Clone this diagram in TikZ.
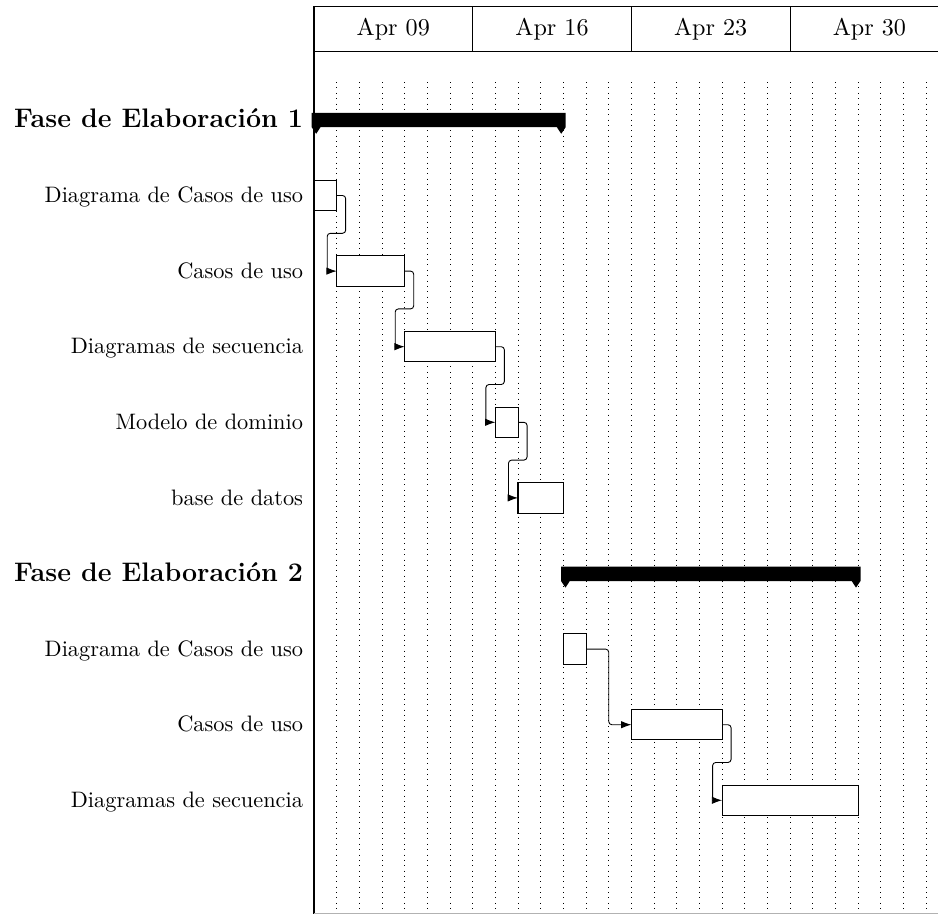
\documentclass[tikz,border=0pt]{standalone}
\usetikzlibrary{arrows.meta,calc}
\begin{document}
\begin{tikzpicture}[x=0.4474pt,y=-0.4474pt,
  bar/.style={draw,fill=white,line width=0.45pt,minimum height=13.6pt,minimum width=#1*10.143pt,anchor=west,inner sep=0pt,outer sep=0pt},
  lbl/.style={anchor=base east,inner sep=0pt,font=\normalsize},
  glbl/.style={anchor=base east,inner sep=0pt,font=\large\bfseries},
  ttl/.style={anchor=base,inner sep=0pt,font=\fontsize{10.8}{13}\selectfont},
  gridline/.style={dotted,line width=0.4pt},
  frame/.style={line width=0.45pt},
  link/.style={line width=0.4pt,rounded corners=1.4pt,-{Latex[length=4.6pt,width=3.3pt]}},
  gbar/.style={fill=black}]
\useasboundingbox (0,0) rectangle (938,914);
% grid
\foreach \d in {1,...,27} \draw[gridline] ({314+22.67*\d},82.1) -- ({314+22.67*\d},914);
% title frame
\draw[frame] (314,914) -- (314,6.7) -- (938,6.7);
\draw[frame] (314,51.7) -- (938,51.7);
\foreach \xx in {472.7,631.4,790.1} \draw[frame] (\xx,6.7) -- (\xx,51.7);
\node[ttl] (t1) at (393.3,35.9) {Apr 09};
\node[ttl] (t2) at (552.0,35.9) {Apr 16};
\node[ttl] (t3) at (710.7,35.9) {Apr 23};
\node[ttl] (t4) at (869.4,35.9) {Apr 30};
% bottom edge
\draw[frame,gray!60] (314,913.8) -- (938,913.8);
% group bars
\fill[gbar] (311.7,112.8) -- (565.7,112.8) -- (565.7,127.2) -- (561.2,133.8) -- (556.9,127.2)
  -- (320.5,127.2) -- (316.2,133.8) -- (311.7,127.2) -- cycle;
\fill[gbar] (561.0,566.5) -- (860.5,566.5) -- (860.5,581.0) -- (856.0,587.6) -- (851.7,581.0)
  -- (569.8,581.0) -- (565.5,587.6) -- (561.0,581.0) -- cycle;
% labels
\node[glbl] (g1) at (303.5,127.5) {Fase de Elaboración 1};
\node[lbl] (l1) at (303.5,202.6) {Diagrama de Casos de uso};
\node[lbl] (l2) at (303.5,278.2) {Casos de uso};
\node[lbl] (l3) at (303.5,353.8) {Diagramas de secuencia};
\node[lbl] (l4) at (303.5,429.4) {Modelo de dominio};
\node[lbl] (l5) at (303.5,505.0) {base de datos};
\node[glbl] (g2) at (303.5,581.1) {Fase de Elaboración 2};
\node[lbl] (m1) at (303.5,656.2) {Diagrama de Casos de uso};
\node[lbl] (m2) at (303.5,731.8) {Casos de uso};
\node[lbl] (m3) at (303.5,807.4) {Diagramas de secuencia};
% bars
\node[bar=1] (a1) at (314.0,195.5) {};
\node[bar=3] (a2) at (336.7,271.1) {};
\node[bar=4] (a3) at (404.7,346.7) {};
\node[bar=1] (a4) at (495.4,422.3) {};
\node[bar=2] (a5) at (518.0,497.9) {};
\node[bar=1] (b1) at (563.4,649.1) {};
\node[bar=4] (b2) at (631.4,724.7) {};
\node[bar=6] (b3) at (722.1,800.3) {};
% links
\draw[link] (a1.east) -- ++(9,0) -- ++(0,37.8) -| ($(a2.west)+(-9.5,0)$) -- (a2.west);
\draw[link] (a2.east) -- ++(9,0) -- ++(0,37.8) -| ($(a3.west)+(-9.5,0)$) -- (a3.west);
\draw[link] (a3.east) -- ++(9,0) -- ++(0,37.8) -| ($(a4.west)+(-9.5,0)$) -- (a4.west);
\draw[link] (a4.east) -- ++(9,0) -- ++(0,37.8) -| ($(a5.west)+(-9.5,0)$) -- (a5.west);
\draw[link] (b1.east) -- ($(b1.east)+(22.67,0)$) |- (b2.west);
\draw[link] (b2.east) -- ++(9,0) -- ++(0,37.8) -| ($(b3.west)+(-9.5,0)$) -- (b3.west);
\end{tikzpicture}
\end{document}
